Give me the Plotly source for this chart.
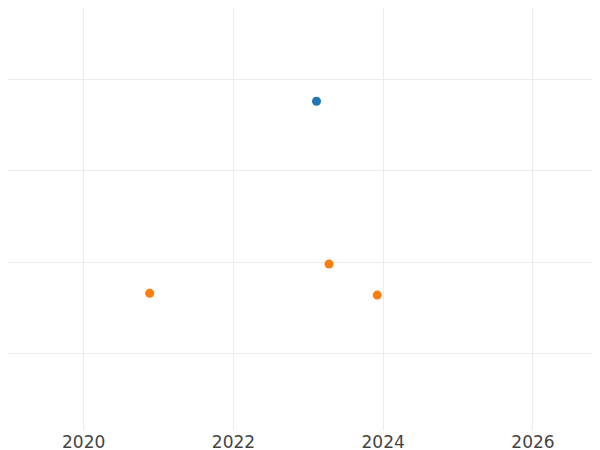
import plotly.graph_objects as go

blue_x = ["2023-02-10"]
blue_y = [3.76]
orange_x = ["2020-11-18", "2023-04-12", "2023-12-03"]
orange_y = [1.66, 1.98, 1.64]

fig = go.Figure()
fig.add_trace(go.Scatter(x=blue_x, y=blue_y, mode="markers", marker=dict(color="#1f77b4", size=9)))
fig.add_trace(go.Scatter(x=orange_x, y=orange_y, mode="markers", marker=dict(color="#ff7f0e", size=9)))
fig.update_layout(
    width=600, height=450, showlegend=False,
    margin=dict(l=0, r=0, t=0, b=28),
    paper_bgcolor="white", plot_bgcolor="white",
    font=dict(family="DejaVu Sans", size=17, color="#444"),
    xaxis=dict(type="date", range=["2018-12-28", "2027-01-02"], dtick="M24", tick0="2020-01-01",
               tickformat="%Y", showgrid=True, gridcolor="#ebebeb", zeroline=False, showline=False),
    yaxis=dict(range=[0.165, 4.78], dtick=1, showticklabels=False, showgrid=True,
               gridcolor="#ebebeb", zeroline=False),
)
fig.write_html("out.html")
